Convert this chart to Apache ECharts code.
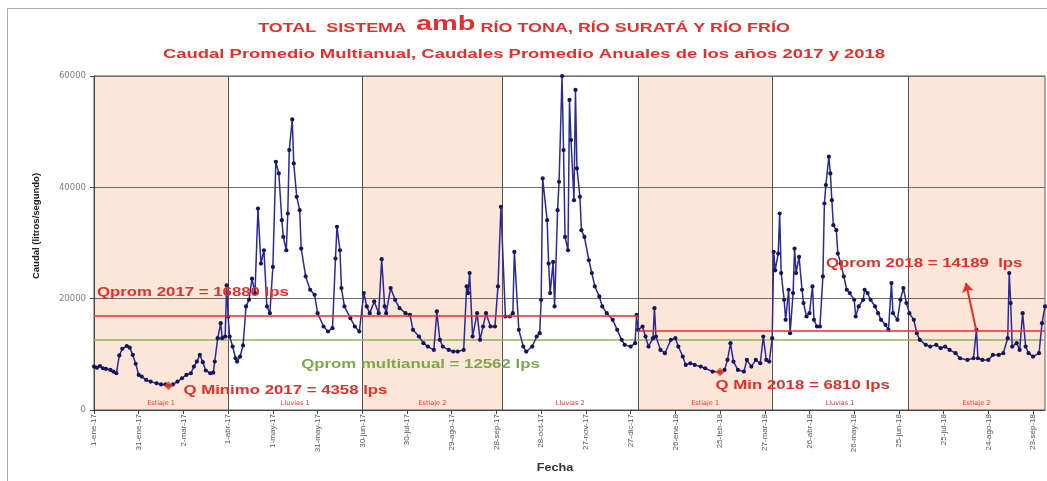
<!DOCTYPE html>
<html>
<head>
<meta charset="utf-8">
<script src="https://cdn.jsdelivr.net/npm/echarts@6/dist/echarts.min.js"></script>
<style>html,body{margin:0;padding:0;background:#fff}#c{width:1047px;height:481px}</style>
</head>
<body>
<div id="c"></div>
<script>
// ---- data (day offset from 1-ene-2017, caudal in litros/segundo) ----
const xTickLabels = ['1-ene-17','31-ene-17','2-mar-17','1-abr-17','1-may-17','31-may-17','30-jun-17','30-jul-17','29-ago-17','28-sep-17','28-oct-17','27-nov-17','27-dic-17','26-ene-18','25-feb-18','27-mar-18','26-abr-18','26-may-18','25-jun-18','25-jul-18','24-ago-18','23-sep-18'];
const yTickValues = [0, 20000, 40000, 60000];

const caudal2017 = [[0,7800],[2,7600],[4,7900],[6,7500],[8,7400],[11,7200],[13,6900],[15,6600],[17,9800],[19,11000],[22,11500],[24,11200],[26,9900],[28,8300],[30,6300],[32,6000],[35,5400],[38,5100],[42,4800],[45,4600],[48,4600],[50,4358],[53,4600],[56,5100],[59,5700],[62,6300],[65,6600],[67,7800],[69,8700],[71,9900],[73,8600],[75,7100],[78,6600],[80,6700],[81,8700],[83,12900],[85,15600],[86,12900],[88,13200],[89,22400],[90,16800],[91,13200],[93,11400],[95,9300],[96,8700],[98,9600],[100,11600],[102,18600],[104,19800],[106,23600],[108,21000],[110,36200],[112,26300],[114,28700],[116,18600],[118,17400],[120,25700],[122,44600],[124,42500],[126,34100],[127,31100],[129,28700],[130,35300],[131,46700],[133,52200],[134,44300],[136,38300],[138,35900],[139,29000],[142,24000],[145,21600],[148,20700],[150,17400],[154,15000],[157,14100],[160,14700],[162,27200],[163,32900],[165,28700],[166,21900],[168,18600],[172,16500],[175,15000],[178,14100],[181,21000],[183,18600],[185,17400],[188,19500],[191,17400],[193,27100],[195,18600],[196,17400],[199,21900],[202,19800],[205,18300],[209,17400],[212,17100],[214,14400],[218,13200],[221,12000],[224,11400],[228,10800],[230,17700],[232,12600],[234,11400],[238,10800],[241,10500],[244,10500],[248,10800],[250,22200],[251,21000],[252,24600],[254,13200],[257,17400],[259,12600],[261,15000],[263,17400],[266,15000],[269,15000],[271,22200],[273,36500],[276,16800],[279,16800],[281,17400],[282,28400],[285,14400],[288,11400],[290,10500],[294,11400],[297,13200],[299,13800],[300,19800],[301,41600],[304,34100],[305,26300],[306,21000],[308,26600],[309,18600],[311,35900],[312,41000],[314,60000],[315,46700],[316,31100],[318,28700],[319,55700],[320,48500],[322,37700],[323,57500],[324,43400],[326,38300],[327,32300],[329,31100],[332,26900],[334,24600],[336,22200],[339,20400],[341,18600],[344,17400],[348,16200],[351,14400],[354,12600],[356,11700],[360,11400],[363,12000],[364,17100]];

const caudal2018 = [[365,14400],[368,15000],[370,13200],[372,11400],[375,12900],[376,18300],[377,13200],[380,10800],[383,10200],[387,12600],[390,12900],[392,11400],[395,9600],[397,8100],[400,8400],[403,8100],[407,7800],[410,7500],[415,6900],[420,6810],[423,7200],[425,9000],[427,12000],[429,8700],[432,7200],[436,6900],[438,9000],[441,7800],[444,9000],[447,8400],[449,13200],[451,9000],[453,8700],[455,12900],[456,28400],[457,25100],[459,28100],[460,35300],[461,24600],[463,19800],[464,16200],[466,21600],[467,13800],[469,21000],[470,29000],[471,24600],[473,27500],[475,21600],[476,19200],[478,16800],[480,17400],[482,22200],[483,16200],[485,15000],[487,15000],[489,24000],[490,37100],[491,40400],[493,45500],[494,42500],[495,37700],[496,33200],[498,32300],[499,28100],[501,26300],[503,24000],[505,21600],[507,21000],[510,19800],[511,16800],[513,18600],[516,19800],[517,21600],[519,21000],[521,19800],[524,18600],[526,17400],[528,16200],[531,15300],[533,14400],[535,22800],[536,17400],[539,16200],[541,19800],[543,21900],[545,19200],[547,17400],[550,16200],[552,13800],[554,12600],[558,11700],[561,11400],[565,11700],[568,11100],[571,11400],[574,10800],[578,10200],[581,9300],[586,9000],[590,9300],[592,14400],[593,9300],[596,9000],[600,9000],[603,9900],[607,9900],[610,10200],[613,12900],[614,24600],[615,19200],[616,11400],[619,12000],[621,10800],[623,17400],[625,11400],[627,10200],[630,9600],[634,10200],[636,15600],[638,18600]];

const seasonNames = ['Estiaje 1','Lluvias 1','Estiaje 2','Lluvias 2','Estiaje 1','Lluvias 1','Estiaje 2'];
const seasonStart = [0, 90, 180, 274, 365, 455, 546];
const seasonEnd   = [90, 180, 274, 365, 455, 546, 638];
const seasonShaded = [true, false, true, false, true, false, true];

const qprom2017 = 16880, qprom2018 = 14189, qpromMultianual = 12562;
const yearBreak = 365, lastDay = 638;
const qmin2017 = [50, 4358], qmin2018 = [420, 6810];
const arrow2018 = [[592, 14189], [585, 22800]];

const annotations = [
  {text: 'Qprom 2017 = 16880 lps', day: 2, value: 21000, color: '#E2312C'},
  {text: 'Qprom multianual = 12562 lps', day: 139, value: 8100, color: '#7BA84A'},
  {text: 'Q Minimo 2017 = 4358 lps', day: 60, value: 3450, color: '#E2312C'},
  {text: 'Q Min 2018 = 6810 lps', day: 417, value: 4300, color: '#E2312C'},
  {text: 'Qprom 2018 = 14189  lps', day: 491, value: 26200, color: '#E2312C'}
];

// ---- chart ----
const RED = '#E2312C';
const chart = echarts.init(document.getElementById('c'));
const fmtDay = v => (v % 30 === 0 && xTickLabels[v / 30]) ? xTickLabels[v / 30] : '';

const option = {
  animation: false,
  grid: {left: 94, right: 2, top: 76, bottom: 71, show: true, borderColor: '#5a5a5a', borderWidth: 1, backgroundColor: 'transparent'},
  xAxis: {
    type: 'value', min: 0, max: lastDay, interval: 30,
    axisLine: {show: true, lineStyle: {color: '#444'}},
    axisTick: {show: true, length: 4, lineStyle: {color: '#444'}},
    axisLabel: {rotate: 90, fontFamily: 'Liberation Sans', fontSize: 8, color: '#555', margin: 4, formatter: fmtDay, showMaxLabel: false},
    splitLine: {show: false}
  },
  yAxis: {
    type: 'value', min: yTickValues[0], max: yTickValues[yTickValues.length - 1], interval: yTickValues[1] - yTickValues[0],
    axisLine: {show: true, lineStyle: {color: '#444'}},
    axisTick: {show: true, length: 4, lineStyle: {color: '#444'}},
    axisLabel: {fontFamily: 'DejaVu Sans', fontSize: 8.5, color: '#808080', margin: 8, formatter: v => String(v)},
    splitLine: {show: true, lineStyle: {color: '#6e6e6e', width: 1}}
  },
  series: [
    {
      name: 'bands', type: 'line', data: [], silent: true,
      markArea: {
        z: -1, silent: true,
        label: {show: true, position: 'insideBottom', distance: 3, fontFamily: 'DejaVu Sans', fontSize: 6.5, color: RED},
        data: seasonStart.map((s, i) => [
          {xAxis: s, name: seasonNames[i], itemStyle: {color: seasonShaded[i] ? '#FBE6D8' : 'rgba(255,255,255,0)'}},
          {xAxis: seasonEnd[i]}
        ])
      },
      markLine: {
        z: 1, silent: true, symbol: 'none', label: {show: false},
        lineStyle: {color: '#555', type: 'solid', width: 1},
        data: seasonStart.slice(1).map(d => ({xAxis: d}))
      }
    },
    {
      name: 'Qprom multianual', type: 'line', z: 2, symbol: 'none', silent: true,
      lineStyle: {color: '#8DB35A', width: 1.5},
      data: [[0, qpromMultianual], [lastDay, qpromMultianual]]
    },
    {
      name: 'Caudal', type: 'line', z: 3,
      data: caudal2017.concat(caudal2018),
      symbol: 'circle', symbolSize: 4.2, showAllSymbol: true,
      lineStyle: {color: '#2A2A98', width: 1.5},
      itemStyle: {color: '#15155A'}
    },
    {
      name: 'Qprom 2017', type: 'line', z: 4, symbol: 'none', silent: true,
      lineStyle: {color: RED, width: 1.6},
      data: [[0, qprom2017], [yearBreak, qprom2017]]
    },
    {
      name: 'Qprom 2018', type: 'line', z: 4, symbol: 'none', silent: true,
      lineStyle: {color: RED, width: 1.6},
      data: [[yearBreak, qprom2018], [lastDay, qprom2018]],
      markLine: {
        z: 6, silent: true, label: {show: false},
        lineStyle: {color: RED, width: 2, type: 'solid'},
        data: [[{coord: arrow2018[0], symbol: 'none'}, {coord: arrow2018[1], symbol: 'arrow', symbolSize: 9}]]
      }
    },
    {
      name: 'Minimos', type: 'scatter', z: 5, symbol: 'diamond', symbolSize: 9,
      itemStyle: {color: '#E8402C'},
      data: [qmin2017, qmin2018]
    }
  ]
};
chart.setOption(option);

function placeTexts() {
  const g = [];
  g.push({type: 'rect', shape: {x: 7.5, y: 8.5, width: 1060, height: 500}, style: {fill: 'none', stroke: '#aaa', lineWidth: 1}, silent: true});
  g.push({
    type: 'text', x: 524, y: 24, scaleX: 1.38, z: 10,
    style: {
      text: '{a|TOTAL  SISTEMA  }{b|amb}{a| RÍO TONA, RÍO SURATÁ Y RÍO FRÍO}',
      rich: {
        a: {fontFamily: 'Liberation Sans', fontSize: 13, fontWeight: 'bold', fill: RED, verticalAlign: 'bottom'},
        b: {fontFamily: 'Liberation Sans', fontSize: 21, fontWeight: 'bold', fill: RED, verticalAlign: 'bottom'}
      },
      align: 'center', verticalAlign: 'middle'
    }
  });
  g.push({
    type: 'text', x: 524, y: 54, scaleX: 1.42, z: 10,
    style: {text: 'Caudal Promedio Multianual, Caudales Promedio Anuales de los años 2017 y 2018', font: 'bold 13px "Liberation Sans"', fill: RED, align: 'center', verticalAlign: 'middle'}
  });
  // axis titles
  g.push({type: 'text', x: 36, y: 226, rotation: Math.PI / 2, z: 10,
    style: {text: 'Caudal (litros/segundo)', font: 'bold 9.5px "Liberation Sans"', fill: '#222', align: 'center', verticalAlign: 'middle'}});
  g.push({type: 'text', x: 555, y: 468, scaleX: 1.15, z: 10,
    style: {text: 'Fecha', font: 'bold 11px "Liberation Sans"', fill: '#333', align: 'center', verticalAlign: 'middle'}});
  annotations.forEach(a => {
    const p = chart.convertToPixel({gridIndex: 0}, [a.day, a.value]);
    g.push({type: 'text', x: p[0], y: p[1], scaleX: 1.4, z: 10,
      style: {text: a.text, font: 'bold 12px "Liberation Sans"', fill: a.color, align: 'left', verticalAlign: 'middle'}});
  });
  chart.setOption({graphic: g});
}
placeTexts();
</script>
</body>
</html>
